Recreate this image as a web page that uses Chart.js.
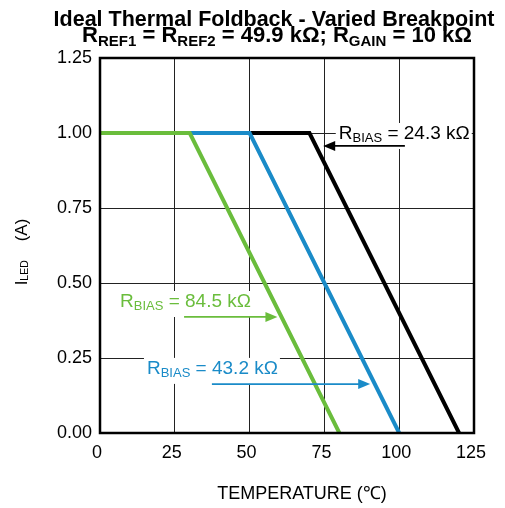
<!DOCTYPE html>
<html>
<head>
<meta charset="utf-8">
<script src="https://cdn.jsdelivr.net/npm/chart.js@4"></script>
<style>
  body { margin: 0; background: #fff; }
</style>
</head>
<body>
<canvas id="foldbackChart" width="505" height="508"></canvas>
<script>
// temperatures (degC) and LED current (A) for each breakpoint
const green845Temp = [0, 30, 80];
const green845Current = [1, 1, 0];
const blue432Temp = [0, 50, 100];
const blue432Current = [1, 1, 0];
const black243Temp = [0, 70, 120];
const black243Current = [1, 1, 0];

const xTicks = [0, 25, 50, 75, 100, 125];
const yTicks = [0, 0.25, 0.5, 0.75, 1.0, 1.25];

const GREEN = '#6abd3c';
const BLUE = '#1a8bc8';
const FONT = 'Arial, "Liberation Sans", sans-serif';

function toPoints(xs, ys) {
    return xs.map((x, i) => ({ x: x, y: ys[i] }));
}

// draws text made of [text, isSubscript] pieces, returns width
function drawRich(ctx, parts, x, y, size, subSize, drop, bold, align) {
    const weight = bold ? 'bold ' : '';
    let total = 0;
    parts.forEach(p => {
        ctx.font = weight + (p[1] ? subSize : size) + 'px ' + FONT;
        total += ctx.measureText(p[0]).width;
    });
    let cx = x;
    if (align === 'center') cx = x - total / 2;
    ctx.textAlign = 'left';
    ctx.textBaseline = 'alphabetic';
    parts.forEach(p => {
        ctx.font = weight + (p[1] ? subSize : size) + 'px ' + FONT;
        ctx.fillText(p[0], cx, p[1] ? y + drop : y);
        cx += ctx.measureText(p[0]).width;
    });
    return total;
}

function measureRich(ctx, parts, size, subSize) {
    let w = 0;
    parts.forEach(p => {
        ctx.font = (p[1] ? subSize : size) + 'px ' + FONT;
        w += ctx.measureText(p[0]).width;
    });
    return w;
}

function arrow(ctx, x1, y1, x2, y2, color) {
    const dir = Math.sign(x2 - x1);
    ctx.strokeStyle = color;
    ctx.fillStyle = color;
    ctx.lineWidth = 1.7;
    ctx.beginPath();
    ctx.moveTo(x1, y1);
    ctx.lineTo(x2 - dir * 8, y2);
    ctx.stroke();
    ctx.beginPath();
    ctx.moveTo(x2, y2);
    ctx.lineTo(x2 - dir * 12, y2 - 5);
    ctx.lineTo(x2 - dir * 12, y2 + 5);
    ctx.closePath();
    ctx.fill();
}

// labels and arrows, placed in data coordinates
const labels = [
    { text: '24.3', color: '#000', x: 79.8, y: 0.98, from: 101.9, to: 74.6, ay: 0.957 },
    { text: '84.5', color: GREEN, x: 6.7, y: 0.42, from: 28.1, to: 59.3, ay: 0.387 },
    { text: '43.2', color: BLUE, x: 15.7, y: 0.197, from: 37.4, to: 90.3, ay: 0.163 }
];

const decorPlugin = {
    id: 'decor',
    afterDraw(chart) {
        const ctx = chart.ctx;
        const a = chart.chartArea;
        const xs = chart.scales.x;
        const ys = chart.scales.y;
        ctx.save();

        // frame
        ctx.strokeStyle = '#000';
        ctx.lineWidth = 2.5;
        ctx.strokeRect(a.left, a.top, a.right - a.left, a.bottom - a.top);

        // annotations
        labels.forEach(l => {
            const px = xs.getPixelForValue(l.x);
            const py = ys.getPixelForValue(l.y);
            const parts = [['R', false], ['BIAS', true], [' = ' + l.text + ' k\u03A9', false]];
            const w = measureRich(ctx, parts, 19, 13);
            ctx.fillStyle = '#fff';
            ctx.fillRect(px - 3, py - 16, w + 5, 26);
            ctx.fillStyle = l.color;
            drawRich(ctx, parts, px, py, 19, 13, 2.8, false, 'left');
            const ay = ys.getPixelForValue(l.ay);
            arrow(ctx, xs.getPixelForValue(l.from), ay, xs.getPixelForValue(l.to), ay, l.color);
        });

        // titles
        ctx.fillStyle = '#000';
        drawRich(ctx, [['Ideal Thermal Foldback - Varied Breakpoint', false]], 274, 26, 21.5, 15, 0, true, 'center');
        drawRich(ctx, [['R', false], ['REF1', true], [' = R', false], ['REF2', true],
            [' = 49.9 k\u03A9; R', false], ['GAIN', true], [' = 10 k\u03A9', false]],
            277, 42, 22, 15, 3.5, true, 'center');

        // axis titles
        ctx.fillStyle = '#000';
        ctx.font = '18px ' + FONT;
        ctx.textAlign = 'center';
        ctx.textBaseline = 'alphabetic';
        ctx.fillText('TEMPERATURE (\u2103)', 302, 499);

        ctx.translate(27, 252);
        ctx.rotate(-Math.PI / 2);
        drawRich(ctx, [['I', false], ['LED', true], ['    (A)', false]], 0, 0, 17, 10.5, 0.8, false, 'center');
        ctx.restore();
    }
};

const ctx = document.getElementById('foldbackChart').getContext('2d');
new Chart(ctx, {
    type: 'line',
    data: {
        datasets: [{
            label: 'RBIAS = 84.5 kΩ',
            data: toPoints(green845Temp, green845Current),
            borderColor: GREEN,
            borderWidth: 4
        }, {
            label: 'RBIAS = 43.2 kΩ',
            data: toPoints(blue432Temp, blue432Current),
            borderColor: BLUE,
            borderWidth: 4
        }, {
            label: 'RBIAS = 24.3 kΩ',
            data: toPoints(black243Temp, black243Current),
            borderColor: '#000',
            borderWidth: 4
        }]
    },
    options: {
        responsive: false,
        animation: false,
        layout: { padding: { top: 58, right: 31, left: 0, bottom: 0 } },
        elements: { point: { radius: 0 }, line: { tension: 0 } },
        plugins: { legend: { display: false }, tooltip: { enabled: false } },
        scales: {
            x: {
                type: 'linear',
                min: 0,
                max: 125,
                afterFit(scale) { scale.height = 75; },
                afterBuildTicks(scale) { scale.ticks = xTicks.map(v => ({ value: v })); },
                grid: { color: '#222', lineWidth: 1, drawTicks: false },
                border: { display: false },
                ticks: {
                    padding: 9,
                    labelOffset: -3,
                    color: '#000',
                    font: { family: FONT, size: 18 },
                    callback: v => String(v)
                }
            },
            y: {
                min: 0,
                max: 1.25,
                afterFit(scale) { scale.width = 100; },
                afterBuildTicks(scale) { scale.ticks = yTicks.map(v => ({ value: v })); },
                grid: { color: '#222', lineWidth: 1, drawTicks: false },
                border: { display: false },
                ticks: {
                    padding: 8,
                    color: '#000',
                    font: { family: FONT, size: 18 },
                    callback: v => v.toFixed(2)
                }
            }
        }
    },
    plugins: [decorPlugin]
});
</script>
</body>
</html>
